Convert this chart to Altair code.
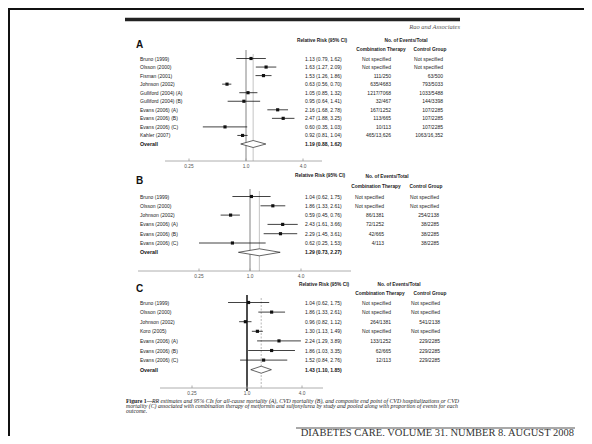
import altair as alt
import pandas as pd

W, H = 576, 428
SANS = "Liberation Sans"
SERIF = "Liberation Serif"
INK = "#222"

# ---------------- data ----------------
a_studies = ["Bruno (1999)", "Olsson (2000)", "Fisman (2001)", "Johnson (2002)",
             "Gulliford (2004) (A)", "Gulliford (2004) (B)", "Evans (2006) (A)",
             "Evans (2006) (B)", "Evans (2006) (C)", "Kahler (2007)", "Overall"]
a_rr = [1.13, 1.63, 1.53, 0.63, 1.05, 0.95, 2.16, 2.47, 0.60, 0.92, 1.19]
a_lo = [0.79, 1.27, 1.26, 0.56, 0.85, 0.64, 1.68, 1.88, 0.35, 0.81, 0.88]
a_hi = [1.62, 2.09, 1.86, 0.70, 1.32, 1.41, 2.78, 3.25, 1.03, 1.04, 1.62]
a_comb = ["Not specified", "Not specified", "111/250", "635/4683", "1217/7068", "32/467",
          "167/1252", "113/665", "10/113", "465/13,626", ""]
a_ctrl = ["Not specified", "Not specified", "63/500", "793/5033", "1033/5488", "144/3398",
          "107/2285", "107/2285", "107/2285", "1063/16,352", ""]

b_studies = ["Bruno (1999)", "Olsson (2000)", "Johnson (2002)", "Evans (2006) (A)",
             "Evans (2006) (B)", "Evans (2006) (C)", "Overall"]
b_rr = [1.04, 1.86, 0.59, 2.43, 2.29, 0.62, 1.29]
b_lo = [0.62, 1.33, 0.45, 1.61, 1.45, 0.25, 0.73]
b_hi = [1.75, 2.61, 0.76, 3.66, 3.61, 1.53, 2.27]
b_comb = ["Not specified", "Not specified", "86/1381", "72/1252", "42/665", "4/113", ""]
b_ctrl = ["Not specified", "Not specified", "254/2138", "38/2285", "38/2285", "38/2285", ""]

c_studies = ["Bruno (1999)", "Olsson (2000)", "Johnson (2002)", "Koro (2005)",
             "Evans (2006) (A)", "Evans (2006) (B)", "Evans (2006) (C)", "Overall"]
c_rr = [1.04, 1.86, 0.96, 1.30, 2.24, 1.86, 1.52, 1.43]
c_lo = [0.62, 1.33, 0.82, 1.13, 1.29, 1.03, 0.84, 1.10]
c_hi = [1.75, 2.61, 1.12, 1.49, 3.89, 3.35, 2.76, 1.85]
c_comb = ["Not specified", "Not specified", "264/1381", "Not specified", "133/1252",
          "62/665", "12/113", ""]
c_ctrl = ["Not specified", "Not specified", "541/2138", "Not specified", "229/2285",
          "229/2285", "229/2285", ""]

tick_values = [0.25, 1.0, 4.0]
tick_labels = ["0.25", "1.0", "4.0"]

hdr_rr = "Relative Risk (95% CI)"
hdr_ev = "No. of Events/Total"
hdr_comb = "Combination Therapy"
hdr_ctrl = "Control Group"

caption_bold = "Figure 1\u2014"
caption_1 = ("RR estimates and 95% CIs for all-cause mortality (A), CVD mortality (B), "
             "and composite end point of CVD hospitalizations or CVD")
caption_2 = ("mortality (C) associated with combination therapy of metformin and sulfonylurea "
             "by study and pooled along with proportion of events for each")
caption_3 = "outcome."
running_head = "Rao and Associates"
footer = "DIABETES CARE, VOLUME 31, NUMBER 8, AUGUST 2008"

# ---------------- layout ----------------
LAY = {
    "A": dict(letter=(128, 37), hrr=(314, 33), hev=(398, 33), hcomb=(373, 42), hctrl=(422, 42),
              row0=50.5, step=8.55, lab_x=132, one=238, s=28.5, ax_l=157, ax_r=314, ax_y=153,
              vtop=42, otop=46, rr_x=297, comb_r=383, ctrl_r=435,
              ref=dict(color="#777", strokeWidth=0.9), ovl=dict(color="#aaa", strokeWidth=0.7)),
    "B": dict(letter=(128, 173), hrr=(312, 168), hev=(379, 169), hcomb=(368, 179), hctrl=(418, 179),
              row0=188.5, step=9.3, lab_x=132, one=242, s=25.5, ax_l=130, ax_r=343, ax_y=263,
              vtop=181, otop=183, rr_x=297, comb_r=376, ctrl_r=431,
              ref=dict(color="#777", strokeWidth=0.9), ovl=dict(color="#aaa", strokeWidth=0.7)),
    "C": dict(letter=(128, 281), hrr=(316, 277), hev=(391, 277), hcomb=(372, 286), hctrl=(422, 286),
              row0=294.5, step=9.6, lab_x=132, one=239, s=27.5, ax_l=152, ax_r=315, ax_y=380,
              vtop=287, otop=290, rr_x=297, comb_r=383, ctrl_r=432,
              ref=dict(color="#111", strokeWidth=1.5),
              ovl=dict(color="#999", strokeWidth=0.7, strokeDash=[2, 1.5])),
}


def one_text(s, x, y, size, align="left", weight="normal", style="normal",
             font=SANS, color=INK, baseline="middle"):
    return alt.Chart(pd.DataFrame({"t": [s]})).mark_text(
        align=align, baseline=baseline, fontSize=size, fontWeight=weight,
        fontStyle=style, font=font, color=color
    ).encode(x=alt.value(x), y=alt.value(y), text="t:N")


def panel(name, studies, rr, lo, hi, comb, ctrl):
    L = LAY[name]
    n = len(studies)
    df = pd.DataFrame({"study": studies, "rr": rr, "lo": lo, "hi": hi,
                       "comb": comb, "ctrl": ctrl, "i": list(range(n))})
    df["rr_text"] = [f"{r:.2f} ({a:.2f}, {b:.2f})" for r, a, b in zip(rr, lo, hi)]
    df["overall"] = df["study"] == "Overall"

    xmin = 2 ** ((L["ax_l"] - L["one"]) / L["s"])
    xmax = 2 ** ((L["ax_r"] - L["one"]) / L["s"])
    xs = alt.Scale(type="log", domain=[xmin, xmax], range=[L["ax_l"], L["ax_r"]], nice=False)
    ys = alt.Scale(domain=[0, n - 1], range=[L["row0"], L["row0"] + (n - 1) * L["step"]],
                   nice=False, zero=False)

    def X(f):
        return alt.X(f, type="quantitative", scale=xs, axis=None)

    def Y(f="i"):
        return alt.Y(f, type="quantitative", scale=ys, axis=None)

    base = alt.Chart(df)
    studies_only = base.transform_filter("!datum.overall")
    overall_only = base.transform_filter("datum.overall")
    layers = []

    # panel letter and headers
    layers.append(one_text(name, *L["letter"], 10, weight="bold", color="#111"))
    layers.append(one_text(hdr_rr, *L["hrr"], 4.8, align="center", weight="bold"))
    layers.append(one_text(hdr_ev, *L["hev"], 4.8, align="center", weight="bold"))
    layers.append(one_text(hdr_comb, *L["hcomb"], 4.8, align="center", weight="bold"))
    layers.append(one_text(hdr_ctrl, *L["hctrl"], 4.8, align="center", weight="bold"))

    # reference lines
    layers.append(alt.Chart(pd.DataFrame({"v": [1.0]})).mark_rule(**L["ref"]).encode(
        x=X("v"), y=alt.value(L["vtop"]), y2=alt.value(L["ax_y"] + (3 if name == "C" else 0))))
    ov = df[df["overall"]].iloc[0]
    layers.append(alt.Chart(pd.DataFrame({"v": [ov["rr"]]})).mark_rule(**L["ovl"]).encode(
        x=X("v"), y=alt.value(L["otop"]), y2=alt.value(L["ax_y"])))

    # axis
    layers.append(alt.Chart(pd.DataFrame({"t": [0]})).mark_rule(color="#999", strokeWidth=0.8).encode(
        x=alt.value(L["ax_l"]), x2=alt.value(L["ax_r"]), y=alt.value(L["ax_y"])))
    tdf = pd.DataFrame({"v": tick_values, "lab": tick_labels})
    layers.append(alt.Chart(tdf).mark_rule(color="#999", strokeWidth=0.8).encode(
        x=X("v"), y=alt.value(L["ax_y"] - 2.5), y2=alt.value(L["ax_y"])))
    layers.append(alt.Chart(tdf).mark_text(fontSize=4.8, font=SANS, color="#555", baseline="middle").encode(
        x=X("v"), y=alt.value(L["ax_y"] + 5.5), text="lab:N"))

    # CI lines and squares
    layers.append(studies_only.mark_rule(color="#111", strokeWidth=0.8).encode(
        x=X("lo"), x2="hi:Q", y=Y()))
    layers.append(studies_only.mark_square(color="#111", size=10, opacity=1).encode(
        x=X("rr"), y=Y()))

    # diamond
    d = 3.5 / L["step"]
    i0 = int(ov["i"])
    ddf = pd.DataFrame({"x": [ov["lo"], ov["rr"], ov["hi"]],
                        "y1": [i0, i0 - d, i0], "y2": [i0, i0 + d, i0]})
    layers.append(alt.Chart(ddf).mark_area(fill="white", stroke="#222", strokeWidth=0.7,
                                           orient="vertical", opacity=1).encode(
        x=X("x"), y=Y("y1"), y2="y2:Q"))

    # text columns
    layers.append(studies_only.mark_text(align="left", baseline="middle", fontSize=5,
                                         font=SANS, color=INK).encode(
        x=alt.value(L["lab_x"]), y=Y(), text="study:N"))
    layers.append(overall_only.mark_text(align="left", baseline="middle", fontSize=5.3,
                                         font=SANS, fontWeight="bold", color="#111").encode(
        x=alt.value(L["lab_x"]), y=Y(), text="study:N"))
    layers.append(studies_only.mark_text(align="left", baseline="middle", fontSize=5,
                                         font=SANS, color=INK).encode(
        x=alt.value(L["rr_x"]), y=Y(), text="rr_text:N"))
    layers.append(overall_only.mark_text(align="left", baseline="middle", fontSize=5,
                                         font=SANS, fontWeight="bold", color="#111").encode(
        x=alt.value(L["rr_x"]), y=Y(), text="rr_text:N"))
    layers.append(studies_only.mark_text(align="right", baseline="middle", fontSize=5,
                                         font=SANS, color=INK).encode(
        x=alt.value(L["comb_r"]), y=Y(), text="comb:N"))
    layers.append(studies_only.mark_text(align="right", baseline="middle", fontSize=5,
                                         font=SANS, color=INK).encode(
        x=alt.value(L["ctrl_r"]), y=Y(), text="ctrl:N"))
    return layers


layers = []
one_row = pd.DataFrame({"t": [0]})
# frame (left and top edges)
layers.append(alt.Chart(one_row).mark_rule(color="#111", strokeWidth=2).encode(
    x=alt.value(1), y=alt.value(0), y2=alt.value(H)))
layers.append(alt.Chart(one_row).mark_rule(color="#111", strokeWidth=2).encode(
    x=alt.value(0), x2=alt.value(W), y=alt.value(1)))
# running head
layers.append(alt.Chart(one_row).mark_rule(color="#222", strokeWidth=3.5).encode(
    x=alt.value(117), x2=alt.value(452), y=alt.value(11.5)))
layers.append(one_text(running_head, 452, 18.5, 6.5, align="right", style="italic",
                       font=SERIF, color="#555"))

layers += panel("A", a_studies, a_rr, a_lo, a_hi, a_comb, a_ctrl)
layers += panel("B", b_studies, b_rr, b_lo, b_hi, b_comb, b_ctrl)
layers += panel("C", c_studies, c_rr, c_lo, c_hi, c_comb, c_ctrl)

# caption
CAP = 5.8
layers.append(one_text(caption_bold, 118, 393, CAP, weight="bold", font=SERIF))
layers.append(one_text(caption_1, 144, 393, CAP, style="italic", font=SERIF))
layers.append(one_text(caption_2, 118, 398, CAP, style="italic", font=SERIF))
layers.append(one_text(caption_3, 118, 403, CAP, style="italic", font=SERIF))

# footer
layers.append(alt.Chart(one_row).mark_rule(color="#555", strokeWidth=1.2).encode(
    x=alt.value(288), x2=alt.value(567), y=alt.value(420)))
layers.append(one_text(footer, 566, 427.5, 10.5, align="right", font=SERIF, color="#333",
                       baseline="alphabetic"))

chart = alt.layer(*layers).resolve_scale(x="independent", y="independent").properties(
    width=W, height=H, autosize=alt.AutoSizeParams(type="none"), padding=0,
    background="white"
).configure_view(stroke=None)

chart.save("out.html", embed_options={"renderer": "svg", "actions": False})
